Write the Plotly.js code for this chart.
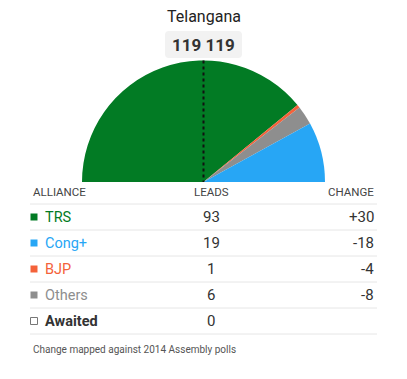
<!DOCTYPE html>
<html><head><meta charset="utf-8">
<script src="https://cdn.plot.ly/plotly-3.0.1.min.js"></script>
<style>html,body{margin:0;padding:0;background:#fff;}#chart{width:407px;height:379px;}</style>
</head><body><div id="chart"></div>
<script>
// Data
const stateName = "Telangana";
const totalSeats = 119;
const alliances = ["TRS", "Cong+", "BJP", "Others", "Awaited"];
const leads = [93, 19, 1, 6, 0];
const changes = ["+30", "-18", "-4", "-8", ""];
const colors = ["#027b24", "#27a6f5", "#f4623a", "#8e8e8e", "#ffffff"];
// Pie slice order (clockwise from left)
const pieOrder = ["TRS", "BJP", "Others", "Cong+"];
const headers = ["ALLIANCE", "LEADS", "CHANGE"];
const footnote = "Change mapped against 2014 Assembly polls";

const W = 407, H = 379;
const px = x => x / W, py = y => 1 - y / H;

const leadsSum = leads.reduce((a, b) => a + b, 0);
const pieLabels = pieOrder.concat(["_hidden"]);
const pieValues = pieOrder.map(n => leads[alliances.indexOf(n)]).concat([totalSeats]);
const pieColors = pieOrder.map(n => colors[alliances.indexOf(n)]).concat(["rgba(0,0,0,0)"]);

const cx = 203.5, cy = 182, r = 121.5;
const trace = {
  type: "pie", labels: pieLabels, values: pieValues, sort: false,
  direction: "clockwise", rotation: -90, textinfo: "none", hoverinfo: "none",
  marker: { colors: pieColors, line: { width: 0 } },
  domain: { x: [px(cx - r), px(cx + r)], y: [py(cy + r), py(cy - r)] },
  showlegend: false
};

const shapes = [];
const annotations = [];
const font = "Roboto, 'Open Sans', sans-serif";

// Title
annotations.push({ x: px(cx), y: py(17), xref: "paper", yref: "paper", text: stateName,
  showarrow: false, font: { family: font, size: 16, color: "#222" }, xanchor: "center", yanchor: "middle" });
// Count box (rounded)
(function () {
  const x0 = 165, x1 = 242, y0 = 31, y1 = 58, rr = 4;
  const P = (x, y) => px(x).toFixed(5) + "," + py(y).toFixed(5);
  const path = "M" + P(x0 + rr, y0) + " L" + P(x1 - rr, y0) + " Q" + P(x1, y0) + " " + P(x1, y0 + rr) +
    " L" + P(x1, y1 - rr) + " Q" + P(x1, y1) + " " + P(x1 - rr, y1) + " L" + P(x0 + rr, y1) +
    " Q" + P(x0, y1) + " " + P(x0, y1 - rr) + " L" + P(x0, y0 + rr) + " Q" + P(x0, y0) + " " + P(x0 + rr, y0) + " Z";
  shapes.push({ type: "path", xref: "paper", yref: "paper", path: path, fillcolor: "#f2f2f2", line: { width: 0 }, layer: "below" });
})();
annotations.push({ x: px(cx), y: py(45), xref: "paper", yref: "paper",
  text: "<b>" + totalSeats + " " + leadsSum + "</b>", showarrow: false,
  font: { family: font, size: 17, color: "#333" }, xanchor: "center", yanchor: "middle" });
// Majority dotted line
shapes.push({ type: "line", xref: "paper", yref: "paper", x0: px(cx), x1: px(cx), y0: py(cy - r), y1: py(cy),
  line: { color: "#111", width: 2, dash: "dot" }, layer: "above" });

// Table
const xL = 31, xC = 211, xR = 376;
const headY = 192;
const hFont = { family: font, size: 11.5, color: "#444" };
annotations.push({ x: px(xL), y: py(headY), xref: "paper", yref: "paper", text: headers[0], showarrow: false,
  xanchor: "left", yanchor: "middle", font: hFont });
annotations.push({ x: px(xC), y: py(headY), xref: "paper", yref: "paper", text: headers[1], showarrow: false,
  xanchor: "center", yanchor: "middle", font: hFont });
annotations.push({ x: px(xR), y: py(headY), xref: "paper", yref: "paper", text: headers[2], showarrow: false,
  xanchor: "right", yanchor: "middle", font: hFont });

const firstLine = 204, rowH = 26;
for (let i = 0; i <= alliances.length; i++) {
  const ly = firstLine + i * rowH;
  shapes.push({ type: "line", xref: "paper", yref: "paper", x0: px(30), x1: px(377), y0: py(ly), y1: py(ly),
    line: { color: "#e6e6e6", width: 1 }, layer: "above" });
}
alliances.forEach((name, i) => {
  const ry = firstLine + i * rowH + 13;
  const isAw = name === "Awaited";
  shapes.push({ type: "rect", xref: "paper", yref: "paper", x0: px(30.5), x1: px(37.5), y0: py(ry + 3.5), y1: py(ry - 3.5),
    fillcolor: colors[i], line: { color: isAw ? "#777" : colors[i], width: isAw ? 1 : 0 }, layer: "above" });
  annotations.push({ x: px(43), y: py(ry), xref: "paper", yref: "paper",
    text: name, showarrow: false, xanchor: "left", yanchor: "middle",
    font: { family: font, size: 14.5, color: isAw ? "#333" : colors[i], weight: isAw ? 700 : 400 } });
  annotations.push({ x: px(xC), y: py(ry), xref: "paper", yref: "paper", text: String(leads[i]), showarrow: false,
    xanchor: "center", yanchor: "middle", font: { family: font, size: 15, color: "#333" } });
  if (changes[i] !== "") {
    annotations.push({ x: px(xR), y: py(ry), xref: "paper", yref: "paper", text: changes[i], showarrow: false,
      xanchor: "right", yanchor: "middle", font: { family: font, size: 15, color: "#333" } });
  }
});
annotations.push({ x: px(31), y: py(349), xref: "paper", yref: "paper", text: footnote, showarrow: false,
  xanchor: "left", yanchor: "middle", font: { family: font, size: 10, color: "#555" } });

const layout = {
  width: W, height: H, autosize: false,
  margin: { l: 0, r: 0, t: 0, b: 0, pad: 0 },
  paper_bgcolor: "#fff", plot_bgcolor: "#fff",
  showlegend: false, shapes: shapes, annotations: annotations
};
Plotly.newPlot("chart", [trace], layout, { displayModeBar: false, staticPlot: true });
</script></body></html>
